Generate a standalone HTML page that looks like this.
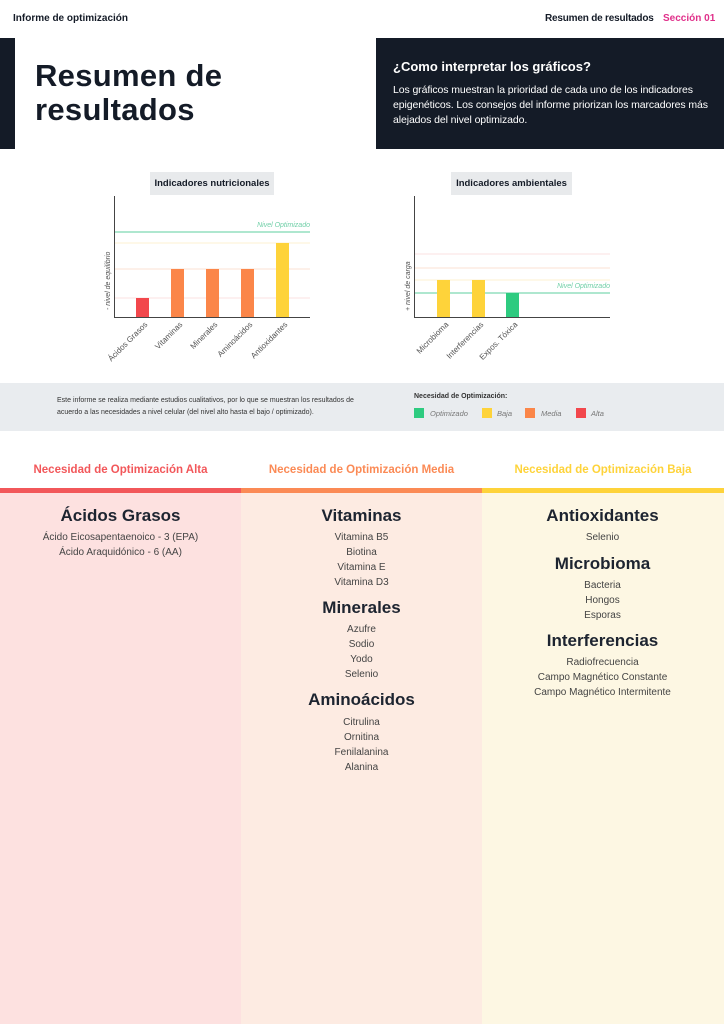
<!DOCTYPE html>
<html><head><meta charset="utf-8"><style>
*{margin:0;padding:0;box-sizing:border-box}
body{width:724px;height:1024px;position:relative;background:#fff;font-family:"Liberation Sans",sans-serif;color:#141b27;overflow:hidden}
.a{position:absolute}
.col{position:absolute;top:493px;width:241px;height:531px;text-align:center}
.h{position:absolute;width:241px;text-align:center;font-size:17px;font-weight:bold;color:#1d2430}
.i{position:absolute;width:241px;text-align:center;font-size:10px;color:#444}
</style></head><body>
<div class="a" style="left:13px;top:13px;font-size:10px;font-weight:bold">Informe de optimización</div>
<div class="a" style="left:545px;top:13px;font-size:10px;font-weight:bold;letter-spacing:-0.2px">Resumen de resultados</div>
<div class="a" style="left:663px;top:13px;font-size:10px;font-weight:bold;color:#e0308a">Sección 01</div>
<div class="a" style="left:0;top:38px;width:15px;height:111px;background:#141b27"></div>
<div class="a" style="left:35px;top:59px;font-size:31px;font-weight:bold;line-height:34px;letter-spacing:0.3px">Resumen de<br>resultados</div>
<div class="a" style="left:376px;top:38px;width:348px;height:111px;background:#141b27;color:#fff;padding:21px 0 0 17px">
<div style="font-size:13px;font-weight:bold">¿Como interpretar los gráficos?</div>
<div style="font-size:10.5px;line-height:15px;margin-top:9px;width:318px;letter-spacing:-0.1px">Los gráficos muestran la prioridad de cada uno de los indicadores epigenéticos. Los consejos del informe priorizan los marcadores más alejados del nivel optimizado.</div>
</div>
<div class="a" style="left:150px;top:172px;width:124px;height:23px;background:#e8eaec;font-size:9.5px;font-weight:bold;text-align:center;line-height:23px">Indicadores nutricionales</div>
<div class="a" style="left:451px;top:172px;width:121px;height:23px;background:#e8eaec;font-size:9.5px;font-weight:bold;text-align:center;line-height:23px">Indicadores ambientales</div>
<svg class="a" style="left:0;top:0" width="724" height="380" font-family="Liberation Sans,sans-serif">
<g stroke-width="1">
<line x1="114" y1="243" x2="310" y2="243" stroke="#fdf0d0"/>
<line x1="114" y1="269" x2="310" y2="269" stroke="#fbe1d3"/>
<line x1="114" y1="298" x2="310" y2="298" stroke="#fbe0e0"/>
<line x1="114" y1="232" x2="310" y2="232" stroke="#5ccf9f"/>
<line x1="114.5" y1="196" x2="114.5" y2="318" stroke="#444"/>
<line x1="114" y1="317.5" x2="310" y2="317.5" stroke="#444"/>
<line x1="414" y1="254" x2="610" y2="254" stroke="#fbe0e0"/>
<line x1="414" y1="268" x2="610" y2="268" stroke="#fbe1d3"/>
<line x1="414" y1="280" x2="610" y2="280" stroke="#fdf0d0"/>
<line x1="414" y1="293" x2="610" y2="293" stroke="#5ccf9f"/>
<line x1="414.5" y1="196" x2="414.5" y2="318" stroke="#444"/>
<line x1="414" y1="317.5" x2="610" y2="317.5" stroke="#444"/>
</g>
<text x="310" y="227" font-size="7" font-style="italic" fill="#6fcfa7" text-anchor="end">Nivel Optimizado</text>
<text x="610" y="288" font-size="7" font-style="italic" fill="#6fcfa7" text-anchor="end">Nivel Optimizado</text>
<rect x="136" y="298" width="13" height="19" fill="#f2474c"/>
<rect x="171" y="269" width="13" height="48" fill="#fb8649"/>
<rect x="206" y="269" width="13" height="48" fill="#fb8649"/>
<rect x="241" y="269" width="13" height="48" fill="#fb8649"/>
<rect x="276" y="243" width="13" height="74" fill="#fed33a"/>
<rect x="437" y="280" width="13" height="37" fill="#fed33a"/>
<rect x="472" y="280" width="13" height="37" fill="#fed33a"/>
<rect x="506" y="293" width="13" height="24" fill="#2ecb80"/>
<g font-size="8" fill="#555" text-anchor="end">
<text transform="translate(148,325) rotate(-45)">Ácidos Grasos</text>
<text transform="translate(183,325) rotate(-45)">Vitaminas</text>
<text transform="translate(218,325) rotate(-45)">Minerales</text>
<text transform="translate(253,325) rotate(-45)">Aminoácidos</text>
<text transform="translate(288,325) rotate(-45)">Antioxidantes</text>
<text transform="translate(449,325) rotate(-45)">Microbioma</text>
<text transform="translate(484,325) rotate(-45)">Interferencias</text>
<text transform="translate(518,325) rotate(-45)">Expos. Tóxica</text>
</g>
<text transform="translate(110,310) rotate(-90)" font-size="7" font-style="italic" fill="#555">- nivel de equilibrio</text>
<text transform="translate(410,311) rotate(-90)" font-size="7" font-style="italic" fill="#555">+ nivel de carga</text>
</svg>
<div class="a" style="left:0;top:383px;width:724px;height:48px;background:#e9ecef"></div>
<div class="a" style="left:57px;top:395px;font-size:7px;line-height:12px;color:#333;width:320px">Este informe se realiza mediante estudios cualitativos, por lo que se muestran los resultados de acuerdo a las necesidades a nivel celular (del nivel alto hasta el bajo / optimizado).</div>
<div class="a" style="left:414px;top:393px;font-size:7px;font-weight:bold;color:#333">Necesidad de Optimización:</div>
<div class="a" style="left:414px;top:408px;width:10px;height:10px;background:#2ecb80"></div>
<div class="a" style="left:430px;top:409px;font-size:7.5px;font-style:italic;color:#777">Optimizado</div>
<div class="a" style="left:482px;top:408px;width:10px;height:10px;background:#fed33a"></div>
<div class="a" style="left:497px;top:409px;font-size:7.5px;font-style:italic;color:#777">Baja</div>
<div class="a" style="left:525px;top:408px;width:10px;height:10px;background:#fb8649"></div>
<div class="a" style="left:541px;top:409px;font-size:7.5px;font-style:italic;color:#777">Media</div>
<div class="a" style="left:576px;top:408px;width:10px;height:10px;background:#f2474c"></div>
<div class="a" style="left:591px;top:409px;font-size:7.5px;font-style:italic;color:#777">Alta</div>

<div class="a" style="left:0;top:464px;width:241px;text-align:center;font-size:11.5px;font-weight:bold;color:#f2575a">Necesidad de Optimización Alta</div>
<div class="a" style="left:241px;top:464px;width:241px;text-align:center;font-size:11.5px;font-weight:bold;color:#fb8a55">Necesidad de Optimización Media</div>
<div class="a" style="left:482px;top:464px;width:242px;text-align:center;font-size:11.5px;font-weight:bold;color:#fed33a">Necesidad de Optimización Baja</div>
<div class="a" style="left:0;top:488px;width:241px;height:5px;background:#f2575a"></div>
<div class="a" style="left:241px;top:488px;width:241px;height:5px;background:#fb8a55"></div>
<div class="a" style="left:482px;top:488px;width:242px;height:5px;background:#fed33a"></div>
<div class="col" style="left:0;background:#fde1e0"></div>
<div class="col" style="left:241px;background:#fdebe2"></div>
<div class="col" style="left:482px;width:242px;background:#fdf7e3"></div>

<div class="h" style="left:0;top:506px">Ácidos Grasos</div>
<div class="i" style="left:0;top:532px">Ácido Eicosapentaenoico - 3 (EPA)</div>
<div class="i" style="left:0;top:547px">Ácido Araquidónico - 6 (AA)</div>

<div class="h" style="left:241px;top:506px">Vitaminas</div>
<div class="i" style="left:241px;top:532px">Vitamina B5</div>
<div class="i" style="left:241px;top:547px">Biotina</div>
<div class="i" style="left:241px;top:562px">Vitamina E</div>
<div class="i" style="left:241px;top:577px">Vitamina D3</div>
<div class="h" style="left:241px;top:598px">Minerales</div>
<div class="i" style="left:241px;top:624px">Azufre</div>
<div class="i" style="left:241px;top:639px">Sodio</div>
<div class="i" style="left:241px;top:654px">Yodo</div>
<div class="i" style="left:241px;top:669px">Selenio</div>
<div class="h" style="left:241px;top:690px">Aminoácidos</div>
<div class="i" style="left:241px;top:717px">Citrulina</div>
<div class="i" style="left:241px;top:732px">Ornitina</div>
<div class="i" style="left:241px;top:747px">Fenilalanina</div>
<div class="i" style="left:241px;top:762px">Alanina</div>

<div class="h" style="left:482px;top:506px">Antioxidantes</div>
<div class="i" style="left:482px;top:532px">Selenio</div>
<div class="h" style="left:482px;top:554px">Microbioma</div>
<div class="i" style="left:482px;top:580px">Bacteria</div>
<div class="i" style="left:482px;top:595px">Hongos</div>
<div class="i" style="left:482px;top:610px">Esporas</div>
<div class="h" style="left:482px;top:631px">Interferencias</div>
<div class="i" style="left:482px;top:657px">Radiofrecuencia</div>
<div class="i" style="left:482px;top:672px">Campo Magnético Constante</div>
<div class="i" style="left:482px;top:687px">Campo Magnético Intermitente</div>
</body></html>
